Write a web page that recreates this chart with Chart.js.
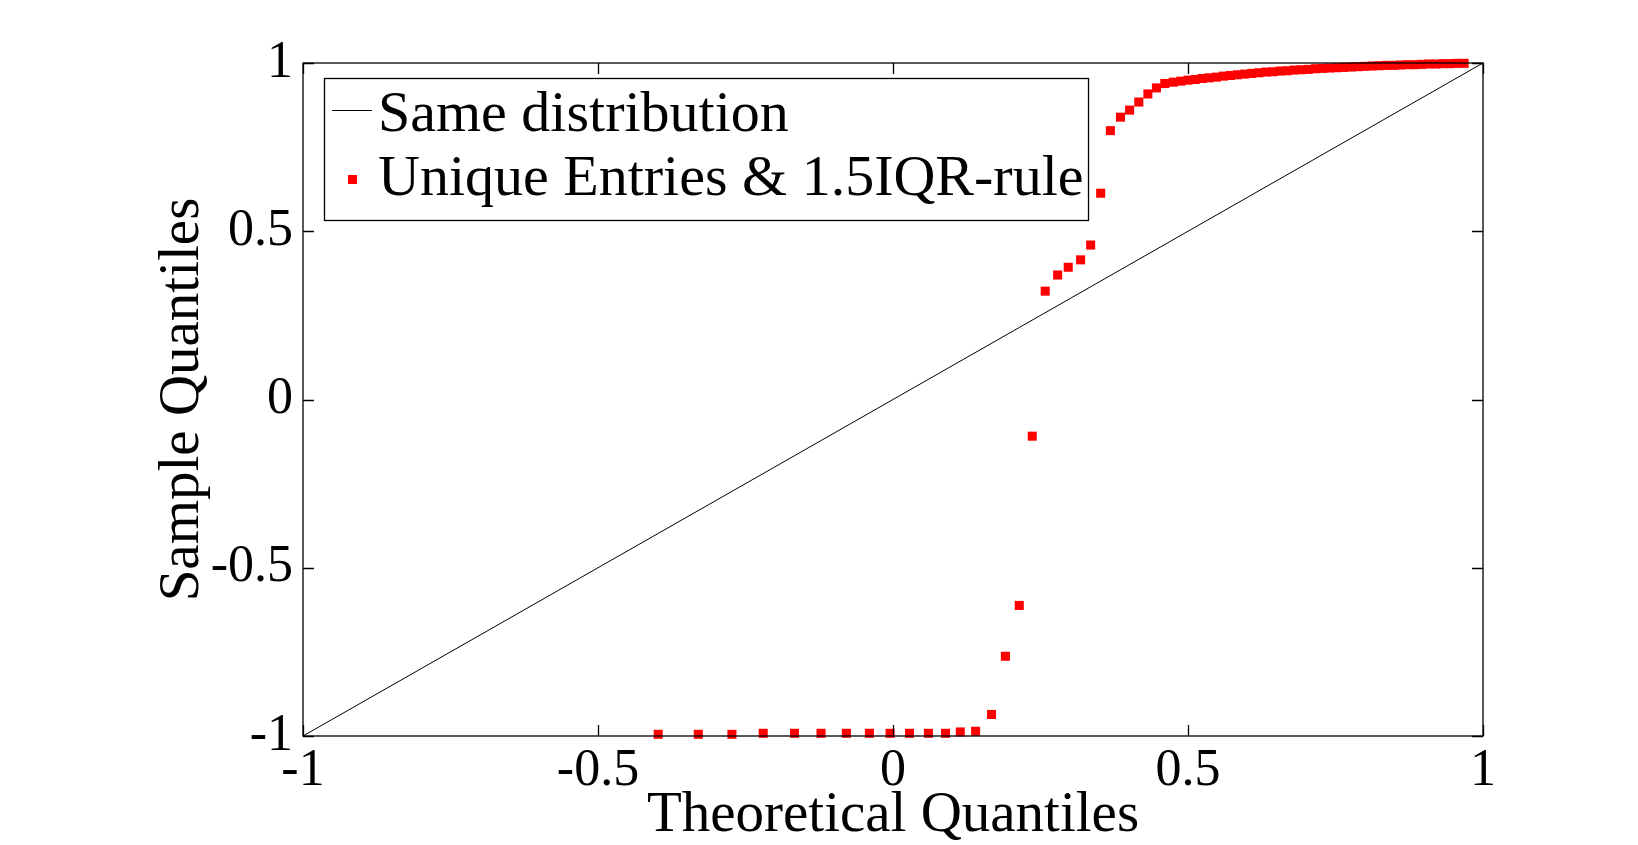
<!DOCTYPE html>
<html>
<head>
<meta charset="utf-8">
<script src="https://cdn.jsdelivr.net/npm/chart.js@4/dist/chart.umd.min.js"></script>
<style>
  html, body { margin: 0; padding: 0; background: #fff; }
  #wrap { width: 1638px; height: 845px; position: relative; }
</style>
</head>
<body>
<div id="wrap"><canvas id="qq"></canvas></div>
<script>
// QQ plot: sample quantiles vs theoretical quantiles

var refLabel = "Same distribution";
var refX = [-1, 1];
var refY = [-1, 1];

var qqLabel = "Unique Entries & 1.5IQR-rule";
var qqX = [-0.398, -0.330, -0.273, -0.220, -0.167, -0.122, -0.079, -0.040, -0.005, 0.028,
           0.060, 0.089, 0.114, 0.140, 0.167, 0.1905, 0.214, 0.236, 0.258, 0.279,
           0.297, 0.318, 0.335, 0.352, 0.3685, 0.3855, 0.401, 0.4166, 0.432, 0.4465,
           0.4607, 0.475, 0.488, 0.500, 0.512, 0.524, 0.536, 0.548, 0.560, 0.572,
           0.584, 0.596, 0.608, 0.620, 0.632, 0.644, 0.656, 0.668, 0.680, 0.692,
           0.704, 0.716, 0.728, 0.740, 0.752, 0.764, 0.776, 0.788, 0.800, 0.812,
           0.824, 0.836, 0.848, 0.860, 0.872, 0.884, 0.896, 0.908, 0.920, 0.932,
           0.944, 0.956, 0.968];
var qqY = [-0.995, -0.995, -0.995, -0.992, -0.992, -0.992, -0.992, -0.992, -0.992, -0.992,
           -0.992, -0.992, -0.988, -0.986, -0.936, -0.763, -0.612, -0.109, 0.322, 0.370,
           0.393, 0.415, 0.459, 0.613, 0.799, 0.839, 0.860, 0.884, 0.908, 0.926,
           0.939, 0.943, 0.946, 0.949, 0.951, 0.954, 0.956, 0.958, 0.961, 0.963,
           0.965, 0.967, 0.969, 0.971, 0.973, 0.974, 0.976, 0.977, 0.979, 0.980,
           0.981, 0.983, 0.984, 0.985, 0.986, 0.987, 0.988, 0.989, 0.990, 0.991,
           0.992, 0.993, 0.993, 0.994, 0.995, 0.995, 0.996, 0.997, 0.997, 0.998,
           0.998, 0.999, 0.999];

var AXIS_MIN = -1, AXIS_MAX = 1, TICK_STEP = 0.5;
var xTitle = "Theoretical Quantiles";
var yTitle = "Sample Quantiles";

function pts(xs, ys) {
  return xs.map(function (x, i) { return { x: x, y: ys[i] }; });
}
function plainTick(v) { return String(v); }

var SERIF = "'Liberation Serif', 'DejaVu Serif', serif";

// box around the axes plus inward tick marks on all four sides
var framePlugin = {
  id: "frame",
  afterDatasetsDraw: function (chart) {
    var a = chart.chartArea, ctx = chart.ctx;
    var xs = chart.scales.x, ys = chart.scales.y;
    var len = 11;
    ctx.save();
    ctx.strokeStyle = "#000";
    ctx.lineWidth = 1.3;
    ctx.strokeRect(a.left, a.top, a.right - a.left, a.bottom - a.top);
    ctx.beginPath();
    xs.ticks.forEach(function (t) {
      var px = Math.round(xs.getPixelForValue(t.value)) + 0.5;
      ctx.moveTo(px, a.bottom); ctx.lineTo(px, a.bottom - len);
      ctx.moveTo(px, a.top); ctx.lineTo(px, a.top + len);
    });
    ys.ticks.forEach(function (t) {
      var py = Math.round(ys.getPixelForValue(t.value)) + 0.5;
      ctx.moveTo(a.left, py); ctx.lineTo(a.left + len, py);
      ctx.moveTo(a.right, py); ctx.lineTo(a.right - len, py);
    });
    ctx.stroke();
    ctx.restore();
  }
};

// MATLAB-style boxed legend in the upper-left of the axes
var legendPlugin = {
  id: "boxLegend",
  afterDatasetsDraw: function (chart) {
    var a = chart.chartArea, ctx = chart.ctx;
    var ds = chart.data.datasets;
    var bx = a.left + 21, by = a.top + 15, bw = 764, bh = 142;
    ctx.save();
    ctx.fillStyle = "#fff";
    ctx.fillRect(bx, by, bw, bh);
    ctx.strokeStyle = "#000";
    ctx.lineWidth = 1.3;
    ctx.strokeRect(bx + 0.5, by + 0.5, bw, bh);
    ctx.font = "58px " + SERIF;
    ctx.fillStyle = "#000";
    ctx.textBaseline = "alphabetic";
    var rows = [by + 53, by + 117];
    ds.forEach(function (d, i) {
      var base = rows[i];
      if (d.pointRadius === 0) {
        ctx.beginPath();
        ctx.strokeStyle = d.borderColor;
        ctx.lineWidth = 1;
        ctx.moveTo(bx + 8, base - 20.5); ctx.lineTo(bx + 48, base - 20.5);
        ctx.stroke();
      } else {
        ctx.fillStyle = d.backgroundColor;
        ctx.fillRect(bx + 24, base - 20, 9, 9);
      }
      ctx.fillStyle = "#000";
      ctx.fillText(d.label, bx + 54, base);
    });
    ctx.restore();
  }
};

new Chart(document.getElementById("qq"), {
  type: "scatter",
  data: {
    datasets: [
      {
        type: "line",
        label: refLabel,
        data: pts(refX, refY),
        borderColor: "#000",
        borderWidth: 1,
        pointRadius: 0,
        fill: false,
        tension: 0
      },
      {
        label: qqLabel,
        data: pts(qqX, qqY),
        pointStyle: "rect",
        pointRadius: 6.4,
        pointBorderWidth: 0,
        backgroundColor: "#ff0000",
        borderColor: "#ff0000",
        clip: false
      }
    ]
  },
  options: {
    responsive: true,
    maintainAspectRatio: false,
    animation: false,
    layout: { padding: { left: 155, right: 155, top: 63, bottom: 0 } },
    plugins: { legend: { display: false }, tooltip: { enabled: false } },
    scales: {
      x: {
        type: "linear",
        min: AXIS_MIN, max: AXIS_MAX,
        ticks: { stepSize: TICK_STEP, color: "#000", padding: 4, maxRotation: 0,
                 callback: plainTick, font: { family: SERIF, size: 52 } },
        grid: { display: false, drawTicks: false },
        border: { display: false },
        title: { display: true, text: xTitle, color: "#000", padding: 0,
                 font: { family: SERIF, size: 57, lineHeight: 1.0 } },
        afterFit: function (s) { s.height = 109; }
      },
      y: {
        type: "linear",
        min: AXIS_MIN, max: AXIS_MAX,
        ticks: { stepSize: TICK_STEP, color: "#000", padding: 10,
                 callback: plainTick, font: { family: SERIF, size: 52 } },
        grid: { display: false, drawTicks: false },
        border: { display: false },
        title: { display: true, text: yTitle, color: "#000", padding: 0,
                 font: { family: SERIF, size: 57, lineHeight: 1.0 } },
        afterFit: function (s) { s.width = 148; }
      }
    }
  },
  plugins: [framePlugin, legendPlugin]
});
</script>
</body>
</html>
